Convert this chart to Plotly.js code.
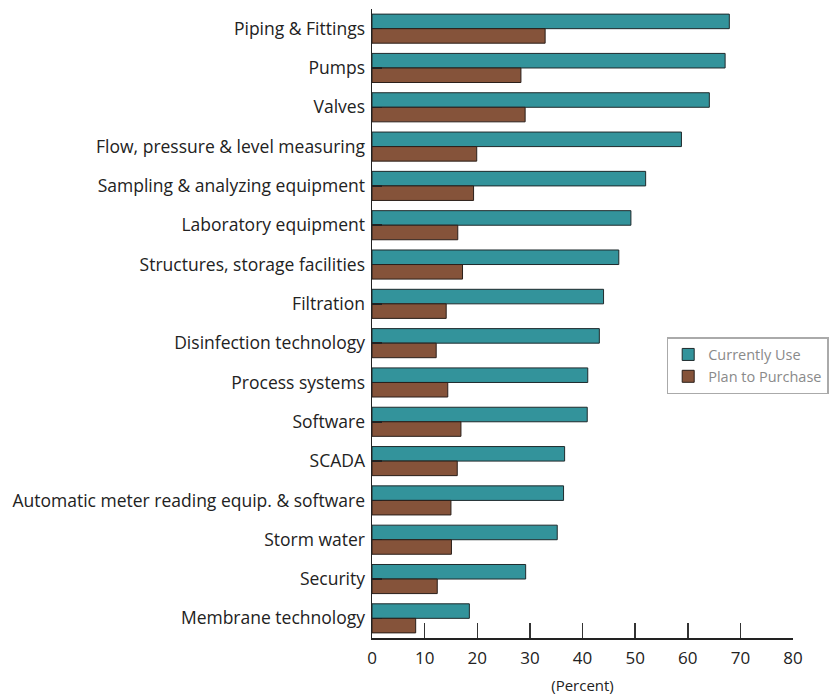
<!DOCTYPE html>
<html>
<head>
<meta charset="utf-8">
<script src="https://cdn.plot.ly/plotly-3.0.1.min.js"></script>
<style>html,body{margin:0;padding:0;background:#fff;}#chart{width:834px;height:698px;}</style>
</head>
<body>
<div id="chart"></div>
<script>
var categories = [
  "Piping & Fittings",
  "Pumps",
  "Valves",
  "Flow, pressure & level measuring",
  "Sampling & analyzing equipment",
  "Laboratory equipment",
  "Structures, storage facilities",
  "Filtration",
  "Disinfection technology",
  "Process systems",
  "Software",
  "SCADA",
  "Automatic meter reading equip. & software",
  "Storm water",
  "Security",
  "Membrane technology"
];
var currentlyUse = [67.9, 67.1, 64.1, 58.8, 52.0, 49.2, 46.9, 44.0, 43.2, 41.0, 40.9, 36.6, 36.4, 35.2, 29.2, 18.5];
var planToPurchase = [32.9, 28.3, 29.1, 19.9, 19.3, 16.3, 17.2, 14.1, 12.2, 14.4, 16.9, 16.2, 15.0, 15.1, 12.4, 8.3];
var xTicks = [0, 10, 20, 30, 40, 50, 60, 70, 80];

var fontFam = "Open Sans, Noto Sans, sans-serif";
var traces = [
  {type: "bar", orientation: "h", name: "Currently Use", y: categories, x: currentlyUse,
   marker: {color: "#33939B", line: {color: "#1f2a2c", width: 1}}},
  {type: "bar", orientation: "h", name: "Plan to Purchase", y: categories, x: planToPurchase,
   marker: {color: "#85533A", line: {color: "#2a1f1a", width: 1}}}
];
var layout = {
  width: 834, height: 698,
  margin: {l: 372, r: 41, t: 9, b: 60, autoexpand: false},
  barmode: "group", bargap: 0.26, bargroupgap: 0,
  paper_bgcolor: "#fff", plot_bgcolor: "#fff",
  font: {family: fontFam, color: "#222", size: 16},
  showlegend: true,
  legend: {x: 0.70, y: 0.4785, xanchor: "left", yanchor: "top",
           bordercolor: "#aaaaaa", borderwidth: 1.5, bgcolor: "#fff",
           font: {size: 14.5, color: "#8a8a8a", family: fontFam}, traceorder: "normal"},
  xaxis: {range: [0, 80], tickvals: xTicks, ticktext: xTicks.map(String),
          ticks: "inside", ticklen: 15, tickwidth: 1.5, tickcolor: "#333",
          showline: true, linecolor: "#222", linewidth: 1.5, showgrid: false, zeroline: false,
          tickfont: {size: 17, color: "#222"}, ticklabelstandoff: 4,
          title: {text: "(Percent)", font: {size: 15, color: "#222"}, standoff: 12}},
  yaxis: {autorange: "reversed", type: "category",
          ticks: "inside", ticklen: 10, tickwidth: 1.5, tickcolor: "#222",
          showline: true, linecolor: "#222", linewidth: 1.5, showgrid: false, zeroline: false,
          tickfont: {size: 17.5, color: "#222"}, ticklabelstandoff: 2}
};
Plotly.newPlot("chart", traces, layout, {displayModeBar: false, staticPlot: true});
</script>
</body>
</html>
